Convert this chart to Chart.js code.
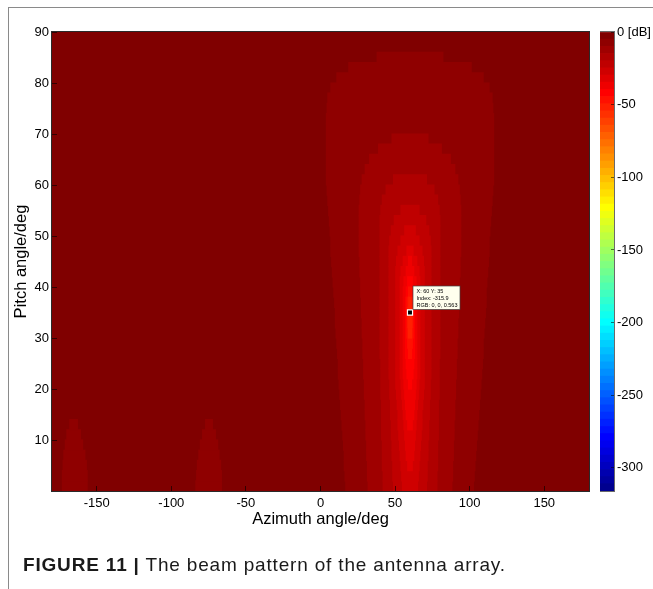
<!DOCTYPE html>
<html><head><meta charset="utf-8">
<script src="https://cdn.jsdelivr.net/npm/chart.js@4.4.0/dist/chart.umd.min.js"></script>
<style>
html,body{margin:0;padding:0;background:#fff;}
#wrap{position:relative;width:653px;height:589px;overflow:hidden;background:#fff;}
#main{position:absolute;left:0;top:0;}
#cbar{position:absolute;left:600px;top:0;}
#frameL{position:absolute;left:8px;top:7px;width:1px;height:582px;background:#8a8a8a;}
#frameT{position:absolute;left:8px;top:7px;width:645px;height:1px;background:#8a8a8a;}
#caption{position:absolute;left:23px;top:554px;line-height:22px;font-family:'Liberation Sans',Arial,Helvetica,sans-serif;font-size:19px;letter-spacing:0.82px;color:#1a1a1a;white-space:nowrap;}
</style></head>
<body><div id="wrap">
<canvas id="main" width="653" height="589"></canvas>
<canvas id="cbar" width="53" height="589"></canvas>
<div id="frameL"></div><div id="frameT"></div>
<div id="caption"><b>FIGURE 11 |</b> The beam pattern of the antenna array.</div>
</div>
<script>
const FONT = "'Liberation Sans', Arial, Helvetica, sans-serif";

// ---- axes / scale data ----
const azimuthTicks = [-150, -100, -50, 0, 50, 100, 150];
const pitchTicks = [10, 20, 30, 40, 50, 60, 70, 80, 90];
const colorbarTicks = [0, -50, -100, -150, -200, -250, -300];
const dbRange = [-315.9, 0];
const azimuthRange = [-180, 180];
const pitchRange = [0, 90];

// pitch rows (deg, centre of each 2-degree row)
const pitchRows = [1,3,5,7,9,11,13,15,17,19,21,23,25,27,29,31,33,35,37,39,41,43,45,47,49,51,53,55,57,59,61,63,65,67,69,71,73,75,77,79,81,83,85,87,89];

// level (dB) of the background and of each contour band
const backgroundDb = -2.5;
const levelDb = [-7.4, -12.3, -17.3, -22.2, -27.2, -32.1, -37.0, -42.0, -46.9, -51.8];

// azimuth extent [left, right] of each band, per pitch row
const ring1 = [[17,102.5],[16.5,103],[16,103.5],[16,104],[15.5,104.5],[15,105],[14.5,105.5],[14,106],[13.5,106.5],[13,107],
 [12.5,107.5],[12,108],[12,108.5],[11.5,109],[11,109],[10.5,109.5],[10,110],[10,110.5],[9.5,111],[9,111],
 [8.5,111.5],[8,112],[7.5,112.5],[7,113],[7,113],[6.5,113.5],[6,114],[5.5,114.5],[5,115],[4.5,115.5],
 [4,116],[4,116],[4,116],[4,116],[4,116],[4,116],[4,116],[4.5,115.5],[5,115],[7,113],
 [11,109],[19,101],[38,82]];
const ring2 = [[32,88],[31.5,88.5],[31.5,88.5],[31,89],[31,89],[30.5,89.5],[30.5,89.5],[30,90],[30,90],[29.5,90.5],
 [29.5,90.5],[29,91],[29,91],[28.5,91.5],[28.5,91.5],[28,92],[28,92],[27.5,92.5],[27.5,92.5],[27,93],
 [27,93],[26.5,93.5],[26.5,93.5],[26,94],[26,94],[26,94],[26,94],[26,94],[26.5,93.5],[27,93],
 [28,92],[30,90],[33,87],[39,81],[48,72]];
const ring3 = [[42,78],[42,78],[41.5,78.5],[41.5,78.5],[41.5,78.5],[41,79],[41,79],[41,79],[41,79],[40.5,79.5],
 [40.5,79.5],[40.5,79.5],[40.5,79.5],[40,80],[40,80],[40,80],[40,80],[40,80],[40,80],[40,80],
 [40,80],[40,80],[40,80],[40,80],[40,80],[40,80],[40,80],[40.5,79.5],[41.5,78.5],[44,76],
 [49,71]];
const ring4 = [[49,71],[48.5,71.5],[48.5,71.5],[48,72],[48,72],[47.5,72.5],[47.5,72.5],[47,73],[47,73],[46.5,73.5],
 [46.5,73.5],[46,74],[46,74],[46,74],[46,74],[46,74],[46,74],[46,74],[46,74],[46,74],
 [46,74],[46,74],[46,74],[46,74],[46.5,73.5],[47.5,72.5],[49.5,70.5],[54,66]];
const ring5 = [[55,65],[54.5,65.5],[54,66],[53.5,66.5],[53,67],[52.5,67.5],[52,68],[52,68],[51.5,68.5],[51,69],
 [50.5,69.5],[50.5,69.5],[50.5,69.5],[50.5,69.5],[50.5,69.5],[50.5,69.5],[50.5,69.5],[50.5,69.5],[50.5,69.5],[50.5,69.5],
 [50.5,69.5],[50.5,69.5],[51,69],[52,68],[54,66],[56.5,63.5]];
const ring6 = [null,null,[58.5,61.5],[57.5,62.5],[57,63],[56.5,63.5],[56,64],[55.5,64.5],[55,65],[54.5,65.5],
 [54,66],[53.5,66.5],[53.5,66.5],[53.5,66.5],[53.5,66.5],[53.5,66.5],[53.5,66.5],[53.5,66.5],[53.5,66.5],[53.5,66.5],
 [53.5,66.5],[54,66],[55.5,64.5],[58,62]];
const ring7 = [null,null,null,null,null,null,[58.5,61.5],[57.5,62.5],[57,63],[56.5,63.5],
 [56,64],[55.5,64.5],[55.5,64.5],[55.5,64.5],[55.5,64.5],[55.5,64.5],[55.5,64.5],[55.5,64.5],[55.5,64.5],[55.5,64.5],
 [56,64],[57.5,62.5],[59,61]];
const ring8 = [null,null,null,null,null,null,null,null,null,null,
 [59,61],[58,62],[57.5,62.5],[57,63],[57,63],[57,63],[57,63],[57,63],[57,63],[57.5,62.5],[58.5,61.5]];
const ring9 = [null,null,null,null,null,null,null,null,null,null,null,null,null,
 [59,61],[58.5,61.5],[58,62],[58,62],[58,62],[58,62],[59,61]];
const ring10 = [null,null,null,null,null,null,null,null,null,null,null,null,null,null,null,
 [59,61],[58.7,61.3],[58.7,61.3],[59.2,60.8]];
// low-elevation side lobes (first band level)
const lobeA = [[-173,-156.5],[-173,-156.5],[-172.5,-157],[-172,-158],[-171,-159.5],[-170,-161],[-168,-163]];
const lobeB = [[-83.5,-66.5],[-83,-66.5],[-82.5,-67],[-81.5,-68],[-80.5,-69],[-79,-70.5],[-77,-72.5]];

// data tip
const tipAz = 60, tipPitch = 35, tipIndex = -315.9, tipRGB = '0, 0, 0.563';

// ---- MATLAB jet(64) colormap ----
function jet64(k) {
  const n = 16, u = [];
  for (let i = 1; i <= n; i++) u.push(i / n);
  for (let i = 0; i < n - 1; i++) u.push(1);
  for (let i = n; i >= 1; i--) u.push(i / n);
  const pick = j => (j >= 1 && j <= u.length) ? u[j - 1] : 0;
  const r = pick(k - 24), g = pick(k - 8), b = pick(k + 8);
  return 'rgb(' + Math.round(r * 255) + ',' + Math.round(g * 255) + ',' + Math.round(b * 255) + ')';
}
function dbColor(v) {
  const f = (v - dbRange[0]) / (dbRange[1] - dbRange[0]);
  return jet64(Math.max(1, Math.min(64, Math.floor(f * 64) + 1)));
}

function rowsToData(rows) {
  const out = [];
  rows.forEach((r, i) => { if (r) out.push({ y: pitchRows[i], x: r }); });
  return out;
}
const barStyle = { type: 'bar', borderWidth: 0, borderSkipped: false, grouped: false,
  barPercentage: 1, categoryPercentage: 1, inflateAmount: 0.6 };

const rings = [ring1, ring2, ring3, ring4, ring5, ring6, ring7, ring8, ring9, ring10];
const datasets = [];
datasets.push({ type: 'scatter', data: [{ x: tipAz, y: tipPitch }], pointStyle: 'rect', pointRadius: 3.6,
  backgroundColor: '#000', borderColor: '#fff', borderWidth: 1.2, order: 0 });
rings.forEach((ring, k) => datasets.push(Object.assign({}, barStyle,
  { data: rowsToData(ring), backgroundColor: dbColor(levelDb[k]), order: 50 - k })));
[lobeA, lobeB].forEach(l => datasets.push(Object.assign({}, barStyle,
  { data: rowsToData(l), backgroundColor: dbColor(levelDb[0]), order: 60 })));

const frame = color => ({
  id: 'frame',
  afterDraw(chart) {
    const a = chart.chartArea, c = chart.ctx;
    c.save(); c.strokeStyle = color; c.lineWidth = 1;
    c.strokeRect(Math.round(a.left) - 0.5, Math.round(a.top) - 0.5, Math.round(a.right - a.left) + 1, Math.round(a.bottom - a.top) + 1);
    c.restore();
  }
});
const baseFill = {
  id: 'baseFill',
  beforeDatasetsDraw(chart) {
    const a = chart.chartArea, c = chart.ctx;
    c.save(); c.fillStyle = dbColor(backgroundDb);
    c.fillRect(a.left, a.top, a.right - a.left, a.bottom - a.top); c.restore();
  }
};
const dataTip = {
  id: 'dataTip',
  afterDatasetsDraw(chart) {
    const c = chart.ctx;
    const px = chart.scales.x.getPixelForValue(tipAz), py = chart.scales.y.getPixelForValue(tipPitch);
    const L = px + 3, T = py - 26.5, W = 47, H = 23.5;
    c.save();
    c.fillStyle = '#ffffee'; c.fillRect(L, T, W, H);
    c.strokeStyle = '#444'; c.lineWidth = 0.7; c.strokeRect(L, T, W, H);
    c.fillStyle = '#000'; c.font = '5.5px ' + FONT; c.textBaseline = 'middle'; c.textAlign = 'left';
    c.fillText('X: ' + tipAz + ' Y: ' + tipPitch, L + 3.5, T + 5.7);
    c.fillText('Index: ' + tipIndex, L + 3.5, T + 12.2);
    c.fillText('RGB: ' + tipRGB, L + 3.5, T + 19.2);
    c.restore();
  }
};

const tickFont = { family: FONT, size: 13 };
new Chart(document.getElementById('main'), {
  type: 'bar',
  data: { datasets },
  options: {
    responsive: false, animation: false, indexAxis: 'y',
    layout: { padding: { left: 0, right: 64, top: 32, bottom: 0 } },
    plugins: { legend: { display: false }, tooltip: { enabled: false } },
    scales: {
      x: { type: 'linear', position: 'bottom', min: azimuthRange[0], max: azimuthRange[1], offset: false,
        afterBuildTicks: s => { s.ticks = azimuthTicks.map(v => ({ value: v })); },
        afterFit: s => { s.height = 98; },
        ticks: { font: tickFont, color: '#000', padding: 10, maxRotation: 0, autoSkip: false, callback: v => String(v) },
        grid: { display: true, offset: false, drawOnChartArea: false, drawTicks: true, tickLength: -5, color: 'rgba(0,0,0,0.6)', z: 1 },
        border: { display: false },
        title: { display: true, text: 'Azimuth angle/deg', color: '#000', font: { family: FONT, size: 16.5 }, padding: { top: 0, bottom: 60 } } },
      y: { type: 'linear', position: 'left', min: pitchRange[0], max: pitchRange[1], offset: false,
        afterBuildTicks: s => { s.ticks = pitchTicks.map(v => ({ value: v })); },
        afterFit: s => { s.width = 52; },
        ticks: { font: tickFont, color: '#000', padding: 8, autoSkip: false, callback: v => String(v) },
        grid: { display: true, offset: false, drawOnChartArea: false, drawTicks: true, tickLength: -5, color: 'rgba(0,0,0,0.6)', z: 1 },
        border: { display: false },
        title: { display: true, text: 'Pitch angle/deg', color: '#000', font: { family: FONT, size: 16.5 }, padding: { top: 12, bottom: 0 } } }
    }
  },
  plugins: [baseFill, dataTip, frame('#2a2a2a')]
});

// ---- colour bar ----
const nColors = 64;
const step = (dbRange[1] - dbRange[0]) / nColors;
const cbDatasets = [];
for (let i = 1; i <= nColors; i++) {
  cbDatasets.push({ data: [[dbRange[0] + (i - 1) * step, dbRange[0] + i * step]], backgroundColor: jet64(i),
    borderWidth: 0, borderSkipped: false, grouped: false, barPercentage: 1, categoryPercentage: 1, inflateAmount: 0.4 });
}
new Chart(document.getElementById('cbar'), {
  type: 'bar',
  data: { labels: [''], datasets: cbDatasets },
  options: {
    responsive: false, animation: false,
    layout: { padding: { left: 0, right: 0, top: 32, bottom: 98 } },
    plugins: { legend: { display: false }, tooltip: { enabled: false } },
    scales: {
      x: { type: 'category', display: false, offset: true },
      y: { type: 'linear', position: 'right', min: dbRange[0], max: dbRange[1],
        afterBuildTicks: s => { s.ticks = colorbarTicks.map(v => ({ value: v })); },
        afterFit: s => { s.width = 39; },
        ticks: { font: tickFont, color: '#000', padding: 6, autoSkip: false, callback: v => v === 0 ? '0 [dB]' : String(v) },
        grid: { display: true, drawOnChartArea: false, drawTicks: true, tickLength: -3, color: 'rgba(0,0,0,0.55)', z: 1 },
        border: { display: false } }
    }
  },
  plugins: [frame('#6a6a6a')]
});
</script>
</body></html>
